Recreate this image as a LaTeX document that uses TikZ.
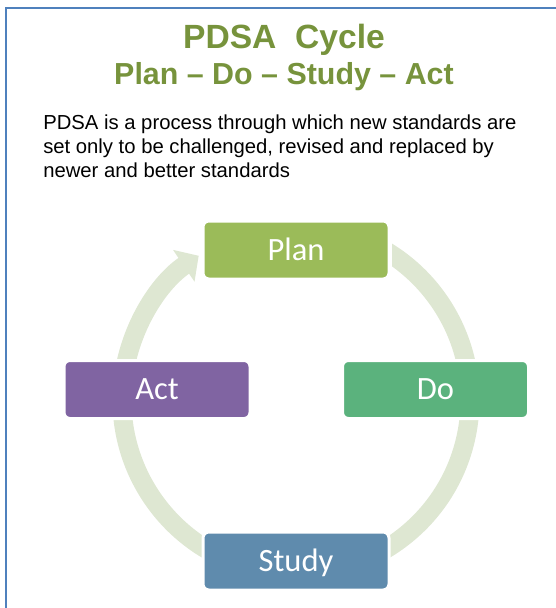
\documentclass[tikz,border=0pt]{standalone}
\usepackage{fontspec}
\setmainfont{Liberation Sans}
\newfontfamily\boxfont{Carlito}
\usetikzlibrary{arrows.meta}
\definecolor{titlegreen}{RGB}{119,147,60}
\definecolor{framecol}{RGB}{79,129,189}
\definecolor{ringcol}{RGB}{222,231,210}
\definecolor{plancol}{RGB}{155,187,89}
\definecolor{docol}{RGB}{91,178,125}
\definecolor{studycol}{RGB}{95,139,173}
\definecolor{actcol}{RGB}{128,100,162}
\tikzset{
  stage/.style={draw=white, line width=2.25pt, rounded corners=4.5pt,
    minimum width=139.5pt, minimum height=43.5pt, inner sep=0pt,
    text=white, text height=15.7pt, text depth=0pt,
    font=\boxfont\fontsize{24.4}{28}\selectfont},
  ring/.style={draw=ringcol, line width=14.25pt,
    -{Triangle[length=13.5pt,width=28pt]}},
}
\begin{document}
\begin{tikzpicture}[x=0.75pt,y=0.75pt]
      \useasboundingbox (0,0) rectangle (556,-608);
      \draw[framecol, line width=1.5pt] (6,-608) -- (6,-8) -- (556,-8);
      \node[anchor=base, text=titlegreen, font=\bfseries\fontsize{25.2}{30}\selectfont]
        (title) at (284,-48.5) {PDSA\ \ Cycle};
      \node[anchor=base, text=titlegreen, font=\bfseries\fontsize{22.8}{27}\selectfont]
        (subtitle) at (284,-84.5) {Plan -- Do -- Study -- Act};
      \node[anchor=base west, inner sep=0pt, align=left, font=\fontsize{15.2}{18}\selectfont]
        (blurb) at (43,-177) {PDSA is a process through which new standards are\\
          set only to be challenged, revised and replaced by\\
          newer and better standards};
      \coordinate (hub) at (296,-400);
      \begin{scope}
        \clip (0,0) -- (200,0) -- (200,-285) -- (392,-285) -- (392,0)
          -- (556,0) -- (556,-608) -- (0,-608) -- cycle;
        \draw[ring] (hub) ++(80:174) arc[start angle=80, end angle=-236, radius=174];
      \end{scope}
      \node[stage, fill=plancol] (plan) at (296,-250) {Plan};
      \node[stage, fill=docol] (do) at (435.5,-389.5) {Do};
      \node[stage, fill=studycol] (study) at (296,-561) {Study};
      \node[stage, fill=actcol] (act) at (157,-389.5) {Act};
    \end{tikzpicture}
\end{document}
